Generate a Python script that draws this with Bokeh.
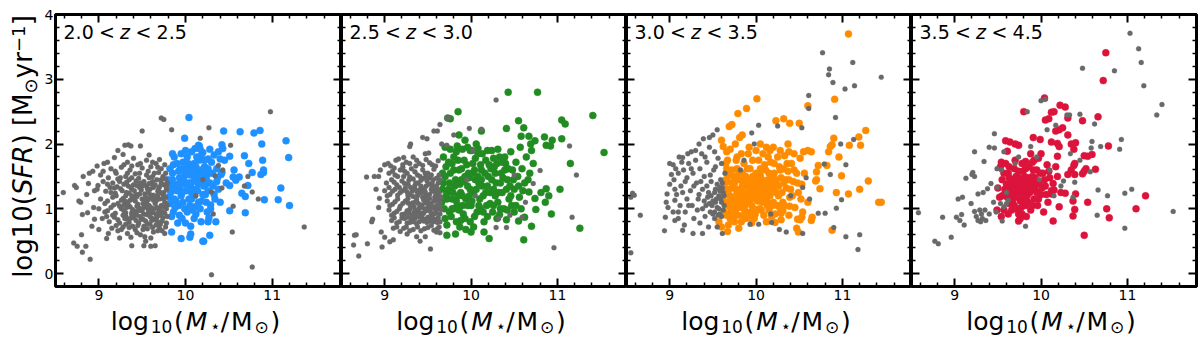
import math
from bokeh.plotting import figure
from bokeh.layouts import row, column
from bokeh.models import Range1d, LinearAxis, Label, FixedTicker, ColumnDataSource, CustomLabelingPolicy
from bokeh.core.properties import value
from bokeh.embed import file_html
from bokeh.resources import INLINE

# ---------------- data ----------------
X_MAJOR = [9, 10, 11]
X_MINOR = [8.6, 8.8, 9.2, 9.4, 9.6, 9.8, 10.2, 10.4, 10.6, 10.8, 11.2, 11.4, 11.6, 11.8]
Y_MAJOR = [0, 1, 2, 3, 4]
Y_MINOR = [-0.2, 0.2, 0.4, 0.6, 0.8, 1.2, 1.4, 1.6, 1.8, 2.2, 2.4, 2.6, 2.8, 3.2, 3.4, 3.6, 3.8]

Z_BINS = [("2.0", "2.5"), ("2.5", "3.0"), ("3.0", "3.5"), ("3.5", "4.5")]
COLORS = ["#1E90FF", "#228B22", "#FF8C00", "#DC143C"]
GRAY = "#696969"

GRAY_1 = [
    (8.59,1.25),(8.72,1.36),(8.74,1.33),(8.90,0.22),(8.81,0.33),(8.71,0.47),(8.75,0.42),(8.80,0.60),
    (8.85,0.42),(8.77,1.12),(8.79,1.10),(8.86,1.22),(8.82,1.50),(8.89,1.55),(8.93,1.58),(8.98,1.66),
    (9.06,1.70),(9.10,1.72),(9.18,1.79),(9.22,1.90),(9.30,1.98),(9.34,1.99),(9.37,1.97),(9.48,1.97),
    (9.50,2.20),(9.72,2.40),(9.75,2.38),(9.84,2.22),(9.58,1.83),(8.81,0.91),(8.87,0.94),(8.95,0.84),
    (8.92,0.73),(9.00,0.68),(9.09,0.54),(9.11,0.62),(9.24,0.55),(9.38,0.43),(9.52,0.43),(9.60,0.42),
    (9.65,0.43),(9.53,0.57),(9.54,0.50),(8.94,1.02),(8.88,1.39),(8.99,1.36),(8.95,1.28),
    (10.98,2.50),(10.27,2.25),(10.17,2.09),(10.52,1.98),(10.38,1.67),(10.43,1.60),(10.34,1.51),
    (10.42,1.32),(10.30,1.26),(10.72,1.50),(10.77,1.26),(10.84,1.15),(10.55,1.04),(10.32,0.92),
    (10.54,0.64),(11.37,0.72),(10.77,0.10),(10.30,-0.02),(10.68,1.35),(10.20,1.45),(10.12,1.20),
    (9.28,1.84),(9.40,1.78),(9.55,1.75),(9.62,1.72),(9.70,1.76),(9.66,1.70),(9.33,1.72),(9.45,1.68),
    (9.05,1.58),(9.14,1.62),(9.20,1.55),(9.26,1.64),(9.36,1.60),(9.42,1.54),(9.50,1.63),(9.57,1.58),
    (9.64,1.55),(9.72,1.62),(9.77,1.55),(9.31,1.50),(9.11,1.48),(9.02,1.52),
    (9.05,1.42),(9.16,1.40),(9.22,1.46),(9.29,1.38),(9.35,1.45),(9.40,1.37),(9.46,1.47),(9.52,1.42),
    (9.58,1.48),(9.61,1.38),(9.67,1.45),(9.72,1.40),(9.77,1.46),(9.55,1.35),(9.70,1.34),(9.44,1.36),
    (8.98,1.30),(9.08,1.27),(9.13,1.33),(9.19,1.24),(9.25,1.31),(9.32,1.25),(9.38,1.30),(9.43,1.22),
    (9.49,1.29),(9.53,1.23),(9.59,1.30),(9.63,1.21),(9.68,1.27),(9.74,1.22),(9.78,1.30),(9.47,1.33),
    (9.57,1.26),(9.02,1.15),(9.10,1.12),(9.16,1.18),(9.22,1.08),(9.28,1.16),(9.33,1.10),(9.39,1.17),
    (9.45,1.07),(9.50,1.15),(9.55,1.10),(9.60,1.17),(9.65,1.08),(9.70,1.15),(9.76,1.10),(9.42,1.12),
    (9.58,1.05),(9.72,1.05),(9.00,1.00),(9.07,0.95),(9.14,1.02),(9.19,0.93),(9.26,1.00),(9.31,0.94),
    (9.36,1.03),(9.41,0.96),(9.47,1.01),(9.52,0.92),(9.57,0.99),(9.62,0.94),(9.67,1.02),(9.73,0.96),
    (9.78,1.00),(9.44,0.90),(9.04,0.85),(9.12,0.80),(9.18,0.87),(9.24,0.78),(9.30,0.85),(9.35,0.79),
    (9.40,0.86),(9.46,0.78),(9.51,0.84),(9.56,0.77),(9.62,0.85),(9.68,0.80),(9.74,0.86),(9.78,0.78),
    (9.15,0.70),(9.22,0.66),(9.28,0.72),(9.33,0.62),(9.42,0.68),(9.48,0.60),(9.56,0.69),(9.63,0.64),
    (9.70,0.70),(9.76,0.62),(9.37,0.56),(9.60,0.55),(9.52,1.38),(9.63,1.33),(9.75,1.37),(9.66,1.18),
    (9.54,1.18),(9.71,0.90),(9.60,1.02),(9.49,0.97),(9.38,1.20),(9.29,1.06),
    (9.21,1.34),(9.27,1.28),(9.34,1.35),(9.41,1.28),(9.48,1.40),(9.56,1.31),(9.62,1.42),(9.69,1.31),
    (9.75,1.25),(9.20,1.20),(9.26,1.13),(9.31,1.20),(9.36,1.13),(9.44,1.19),(9.51,1.08),(9.57,1.14),
    (9.63,1.13),(9.68,1.21),(9.74,1.16),(9.79,1.06),(9.17,1.06),(9.24,1.04),(9.29,0.97),(9.34,1.06),
    (9.39,0.99),(9.44,1.04),(9.50,0.98),(9.55,1.04),(9.61,0.97),(9.66,0.92),(9.70,1.00),(9.76,0.93),
    (9.16,0.90),(9.22,0.83),(9.28,0.90),(9.33,0.84),(9.38,0.91),(9.43,0.82),(9.48,0.88),(9.54,0.81),
    (9.59,0.88),(9.65,0.83),(9.71,0.76),(9.77,0.72),(9.20,0.74),(9.26,0.68),(9.31,0.76),(9.39,0.73),
    (9.45,0.74),(9.52,0.73),(9.59,0.76),(9.66,0.75),(9.73,0.66),(9.25,1.48),(9.33,1.55),(9.38,1.48),
    (9.47,1.55),(9.55,1.52),(9.62,1.50),(9.69,1.56),(9.74,1.50),(9.79,1.40),(9.19,1.58),(9.29,1.68),
    (9.38,1.66),(9.48,1.70),(9.60,1.65),(9.68,1.64),(9.76,1.68),(9.10,1.38),(9.14,1.25),(9.07,1.08),
    (9.10,0.97),(9.09,0.88),(9.24,1.42),(9.18,1.32),
    (9.32,1.41),(9.37,1.33),(9.43,1.43),(9.50,1.35),(9.58,1.39),(9.65,1.37),(9.72,1.45),(9.78,1.34),
    (9.30,1.12),(9.35,1.24),(9.41,1.14),(9.47,1.23),(9.53,1.14),(9.59,1.22),(9.66,1.12),(9.71,1.25),
    (9.77,1.18),(9.32,1.02),(9.38,0.94),(9.45,0.97),(9.52,1.02),(9.58,0.95),(9.64,1.00),(9.69,0.95),
    (9.75,1.03),(9.31,0.89),(9.36,0.85),(9.42,0.93),(9.49,0.84),(9.55,0.91),(9.61,0.82),(9.67,0.87),
    (9.73,0.81),(9.79,0.88),(9.35,0.71),(9.44,0.63),(9.51,0.68),(9.62,0.71),(9.68,0.66),
]

COLOR_1 = [
    (10.04,2.41),(9.99,2.09),(10.15,1.98),(10.11,1.93),(10.17,1.92),(9.82,1.62),(10.44,2.20),(10.63,2.19),
    (10.79,2.17),(10.86,2.21),(11.16,2.05),(10.88,2.00),(10.68,1.82),(11.19,1.79),(10.89,1.75),(10.73,1.70),
    (10.90,1.60),(10.90,1.56),(10.87,1.53),(10.77,1.56),(10.56,1.60),(10.55,1.49),(10.58,1.44),(10.62,1.49),
    (10.51,1.36),(10.72,1.36),(10.65,1.24),(10.69,1.19),(10.91,1.14),(11.07,1.14),(11.10,1.32),(11.20,1.05),
    (10.69,0.94),(10.51,0.97),(10.28,0.59),(10.21,0.50),(10.26,0.80),(10.27,0.86),(10.29,1.00),(10.29,1.06),
    (10.42,1.99),(10.43,1.93),(10.51,1.81),(10.40,1.77),(10.33,1.83),(10.26,1.77),(10.20,1.87),(10.16,1.97),
    (10.41,1.53),(10.42,1.56),(10.37,1.48),(10.25,1.40),(9.84,0.64),(9.95,0.54),(10.05,0.56),(10.06,0.61),
    (10.20,0.50),(9.80,1.45),(9.85,1.55),(9.88,1.35),(9.83,1.25),(9.90,1.70),(9.93,1.48),(9.95,1.20),
    (9.92,1.05),(9.86,0.95),(9.98,1.62),(10.00,1.38),(10.02,1.80),(10.04,1.15),(10.05,1.52),(10.08,0.98),
    (10.10,1.70),(10.12,1.30),(10.13,1.58),(10.15,1.10),(10.18,1.82),(10.19,1.45),(10.22,1.65),(10.23,1.22),
    (10.25,0.95),(10.27,1.55),(10.30,1.72),(10.32,1.35),(10.34,1.15),(10.36,1.62),(10.38,1.88),(9.96,0.85),
    (10.00,1.90),(9.87,1.80),(10.07,1.25),(9.97,1.72),(10.10,0.85),(9.89,1.12),(10.16,1.75),(10.03,1.62),
    (10.21,1.35),(9.82,1.08),(10.14,1.50),(9.94,1.30),(10.09,1.42),(10.26,1.28),(10.45,1.75),(10.47,1.40),
    (10.40,1.10),(10.35,0.80),(10.18,0.80),(10.06,0.73),(9.91,0.78),(10.11,1.03),(9.99,1.00),(10.24,1.10),
    (9.83,1.38),(9.86,1.68),(9.90,1.28),(9.92,1.58),(9.95,1.40),(9.97,1.10),(9.99,1.52),(10.01,1.28),
    (10.03,1.70),(10.05,1.05),(10.06,1.35),(10.08,1.62),(10.10,1.20),(10.11,1.48),(10.13,1.80),(10.15,1.38),
    (10.17,1.00),(10.18,1.60),(10.20,1.22),(10.22,1.75),(10.24,1.48),(10.26,1.62),(10.28,1.40),(10.31,1.55),
    (10.33,1.22),(10.36,1.42),(10.38,1.30),(9.81,1.18),(9.84,0.88),(9.88,1.02),(9.93,0.90),(10.00,0.78),
    (10.02,0.95),(10.12,0.92),(10.19,1.12),(9.85,1.85),(9.95,1.85),(10.07,1.88),(10.28,1.92),
    (9.82,1.30),(9.85,1.45),(9.87,1.15),(9.91,1.38),(9.94,1.62),(9.96,1.25),(9.98,1.45),(10.01,1.60),
    (10.04,1.40),(10.07,1.15),(10.09,1.55),(10.12,1.65),(10.14,1.28),(10.16,1.45),(10.21,1.55),(10.23,1.38),
]

GRAY_2 = [
    (8.70,0.27),(8.64,0.44),(8.65,0.59),(8.67,0.60),(8.80,0.46),(8.97,0.41),(8.85,0.80),(8.86,0.84),
    (8.79,1.49),(8.88,1.50),(8.93,1.50),(8.90,1.30),(8.94,1.16),(8.93,1.02),(8.96,0.64),(9.00,0.56),
    (9.06,0.49),(9.10,0.52),(9.00,1.68),(9.04,1.70),(9.07,1.66),(8.95,1.60),(9.13,1.75),(9.11,1.63),
    (9.16,1.77),(9.22,1.79),(9.21,1.64),(9.30,2.00),(9.29,1.96),(9.44,2.10),(9.49,2.08),(9.47,1.85),
    (9.51,1.86),(9.57,2.20),(9.61,2.20),(9.64,2.30),(9.72,2.40),(9.74,2.40),(9.66,2.00),(9.72,1.98),
    (9.98,2.24),(9.80,2.14),(9.41,0.50),(9.47,0.57),(9.53,0.38),(9.60,0.64),(9.64,0.63),(9.26,0.61),
    (9.37,0.57),(10.29,2.68),(11.14,1.97),(11.22,1.52),(11.17,0.87),(10.96,0.40),(10.29,0.71),(10.41,0.71),
    (10.32,0.85),(10.59,0.87),(10.80,1.59),(10.72,1.39),(10.63,1.10),(10.12,2.23),(10.50,1.52),(10.45,0.90),
    (10.02,1.90),(10.05,1.20),(9.95,1.45),
    (9.25,1.72),(9.33,1.80),(9.40,1.70),(9.48,1.76),(9.55,1.68),(9.62,1.74),(9.36,1.66),(9.05,1.55),
    (9.12,1.52),(9.18,1.60),(9.26,1.55),(9.31,1.62),(9.38,1.52),(9.44,1.60),(9.50,1.55),(9.57,1.61),
    (9.63,1.52),(9.22,1.50),(9.02,1.40),(9.08,1.45),(9.14,1.37),(9.20,1.43),(9.27,1.38),(9.33,1.46),
    (9.39,1.40),(9.45,1.47),(9.51,1.38),(9.56,1.45),(9.62,1.40),(9.48,1.35),(9.00,1.28),(9.06,1.22),
    (9.12,1.30),(9.18,1.25),(9.24,1.32),(9.29,1.22),(9.35,1.30),(9.41,1.24),(9.46,1.31),(9.52,1.22),
    (9.58,1.29),(9.63,1.24),(9.38,1.20),(9.03,1.12),(9.09,1.07),(9.15,1.15),(9.21,1.08),(9.27,1.16),
    (9.32,1.09),(9.37,1.14),(9.43,1.06),(9.49,1.13),(9.54,1.08),(9.60,1.16),(9.64,1.10),(9.46,1.19),
    (9.05,0.98),(9.11,0.93),(9.17,1.00),(9.23,0.92),(9.29,0.99),(9.34,0.94),(9.40,1.01),(9.45,0.93),
    (9.51,0.99),(9.57,0.92),(9.62,1.00),(9.36,0.90),(9.08,0.82),(9.14,0.78),(9.20,0.86),(9.26,0.78),
    (9.31,0.84),(9.37,0.77),(9.43,0.85),(9.49,0.79),(9.55,0.86),(9.61,0.79),(9.10,0.70),(9.18,0.65),
    (9.25,0.72),(9.33,0.68),(9.42,0.66),(9.50,0.71),(9.57,0.67),(9.63,0.72),(9.55,1.35),(9.60,1.05),
    (9.50,1.02),(9.42,1.30),(9.58,1.18),(9.52,1.48),(9.44,1.18),
    (9.21,1.68),(9.29,1.70),(9.37,1.75),(9.44,1.67),(9.52,1.71),(9.59,1.66),(9.09,1.58),(9.15,1.50),
    (9.23,1.58),(9.29,1.49),(9.35,1.57),(9.41,1.50),(9.47,1.55),(9.54,1.52),(9.60,1.47),(9.05,1.33),
    (9.11,1.41),(9.17,1.33),(9.23,1.39),(9.30,1.33),(9.36,1.40),(9.42,1.35),(9.49,1.43),(9.54,1.30),
    (9.60,1.35),(9.64,1.45),(9.03,1.20),(9.09,1.27),(9.15,1.21),(9.21,1.28),(9.27,1.21),(9.32,1.27),
    (9.38,1.25),(9.44,1.26),(9.49,1.20),(9.55,1.27),(9.61,1.20),(9.06,1.05),(9.12,1.11),(9.18,1.04),
    (9.24,1.12),(9.30,1.04),(9.35,1.10),(9.41,1.02),(9.47,1.09),(9.52,1.05),(9.57,1.12),(9.63,1.04),
    (9.08,0.90),(9.14,0.96),(9.20,0.91),(9.26,0.97),(9.32,0.90),(9.38,0.96),(9.43,0.90),(9.48,0.97),
    (9.54,0.91),(9.59,0.98),(9.64,0.92),(9.11,0.86),(9.17,0.80),(9.23,0.85),(9.29,0.79),(9.35,0.85),
    (9.40,0.80),(9.46,0.84),(9.52,0.81),(9.58,0.84),(9.64,0.80),(9.14,0.72),(9.22,0.70),(9.29,0.66),
    (9.38,0.72),(9.46,0.69),(9.54,0.74),(9.61,0.69),
    (9.28,1.44),(9.35,1.36),(9.42,1.44),(9.48,1.50),(9.55,1.40),(9.61,1.30),(9.26,1.26),(9.33,1.19),
    (9.40,1.29),(9.47,1.26),(9.52,1.16),(9.59,1.24),(9.65,1.18),(9.27,1.09),(9.34,1.03),(9.39,1.08),
    (9.45,1.14),(9.50,1.09),(9.56,1.02),(9.62,1.12),(9.28,0.94),(9.35,0.98),(9.41,0.94),(9.46,1.00),
    (9.53,0.96),(9.60,0.93),(9.65,0.99),(9.27,0.87),(9.33,0.80),(9.39,0.88),(9.45,0.81),(9.50,0.87),
    (9.56,0.80),(9.62,0.86),
]

COLOR_2 = [
    (10.43,2.80),(10.77,2.80),(11.41,2.44),(11.05,2.37),(11.09,2.31),(10.55,2.36),(10.41,2.24),(10.61,2.25),
    (11.54,1.87),(11.15,1.70),(11.05,2.08),(10.94,2.06),(10.85,2.11),(10.87,1.98),(10.92,1.97),(10.67,2.12),
    (10.58,2.12),(10.74,2.05),(10.70,1.90),(10.69,2.00),(11.03,1.30),(10.93,0.92),(11.26,0.70),(10.70,0.73),
    (10.61,0.52),(10.90,1.20),(10.86,1.10),(10.81,1.25),(10.87,1.31),(10.75,0.99),(10.74,1.16),(10.67,1.26),
    (10.62,0.87),(10.55,0.81),(10.58,1.00),(10.50,0.95),(10.41,0.83),(10.33,0.91),(10.21,0.54),(10.15,0.64),
    (9.85,2.50),(9.73,2.40),(9.76,2.39),(9.86,2.14),(9.93,2.06),(9.84,1.97),(9.99,1.90),(10.06,2.00),
    (10.08,1.93),(10.12,2.20),(9.72,0.59),(9.82,0.61),(10.00,0.64),(9.94,0.68),
    (9.66,1.10),(9.68,1.40),(9.70,0.85),(9.71,1.65),(9.73,1.25),(9.75,0.95),(9.76,1.55),(9.78,1.15),
    (9.80,1.80),(9.81,1.35),(9.83,0.80),(9.84,1.05),(9.86,1.60),(9.88,1.25),(9.89,1.45),(9.91,0.92),
    (9.92,1.75),(9.94,1.15),(9.96,1.35),(9.97,1.55),(9.99,0.80),(10.00,1.05),(10.02,1.70),(10.03,1.25),
    (10.05,1.45),(10.07,0.95),(10.08,1.85),(10.10,1.15),(10.12,1.60),(10.13,1.35),(10.15,0.80),(10.17,1.75),
    (10.18,1.05),(10.20,1.50),(10.22,1.25),(10.24,1.90),(10.25,0.95),(10.27,1.65),(10.29,1.40),(10.31,1.10),
    (10.33,1.80),(10.35,1.55),(10.36,1.25),(10.38,1.00),(10.40,1.70),(10.42,1.45),(10.44,1.15),(10.46,1.88),
    (10.48,1.60),(10.50,1.30),(10.52,1.72),(10.54,1.50),(10.56,1.18),(10.59,1.62),(10.62,1.40),(10.64,1.80),
    (9.70,1.95),(9.78,1.70),(9.74,1.30),(9.80,1.00),(9.85,1.20),(9.90,1.05),(9.93,1.50),(9.98,1.20),
    (10.04,1.60),(10.09,1.40),(10.14,1.20),(10.19,1.90),(10.23,1.62),(10.28,1.20),(10.34,1.40),(10.39,1.60),
    (10.45,1.35),(9.67,1.55),(9.72,0.75),(9.87,0.72),(10.01,1.90),(10.11,1.00),(10.26,1.78),(10.30,0.85),
    (10.47,1.05),(10.57,1.95),(10.68,1.55),(10.72,1.70),(10.66,1.45),
    (9.67,1.30),(9.69,1.00),(9.70,1.50),(9.72,1.15),(9.74,1.72),(9.75,1.40),(9.77,0.88),(9.79,1.25),
    (9.80,1.60),(9.82,1.45),(9.83,1.12),(9.85,1.75),(9.86,0.98),(9.87,1.38),(9.89,1.62),(9.90,1.20),
    (9.92,1.42),(9.93,0.85),(9.95,1.68),(9.96,1.05),(9.98,1.48),(9.99,1.30),(10.01,1.12),(10.02,1.55),
    (10.04,0.88),(10.05,1.78),(10.06,1.30),(10.08,1.50),(10.09,1.05),(10.11,1.68),(10.12,1.45),(10.14,0.95),
    (10.16,1.55),(10.17,1.25),(10.19,1.35),(10.21,1.68),(10.22,1.08),(10.24,1.45),(10.26,1.30),(10.28,1.55),
    (10.30,1.70),(10.32,1.25),(10.34,1.00),(10.37,1.48),(10.39,1.80),(10.41,1.30),(10.43,1.62),(10.46,1.20),
    (10.49,1.45),(10.52,1.05),(10.55,1.35),(10.60,1.28),(9.68,1.80),(9.76,1.92),(9.83,1.88),(9.90,1.92),
    (9.96,1.95),(10.13,1.85),(10.31,1.92),(10.36,1.72),(9.71,1.20),(9.78,1.00),(9.88,0.82),(10.03,0.72),
    (10.19,0.88),(10.26,1.05),(10.42,0.98),
]

GRAY_3 = [
    (8.57,1.24),(8.59,1.21),(8.55,1.18),(8.66,0.90),(8.55,0.32),(8.94,0.66),(8.95,0.87),(8.96,1.10),
    (8.97,1.23),(8.98,1.02),(9.06,1.13),(9.00,1.70),(9.04,1.68),(9.02,1.53),(9.11,1.80),(9.15,1.79),
    (9.21,1.85),(9.25,1.88),(9.30,1.90),(9.34,2.00),(9.39,2.08),(9.46,2.10),(9.50,2.14),(9.55,2.22),
    (9.06,0.82),(9.10,0.85),(9.17,0.75),(9.15,0.67),(9.27,0.62),(9.38,0.62),(9.61,0.62),(9.93,0.76),
    (10.03,0.76),(10.03,2.29),(9.95,2.17),(9.98,2.00),(9.86,1.75),(9.82,1.60),
    (10.77,3.41),(11.12,3.26),(10.85,3.16),(10.84,3.07),(10.89,2.95),(11.03,2.85),(11.14,2.90),(11.45,3.03),
    (10.61,2.75),(10.61,2.55),(10.92,2.41),(10.25,2.28),(10.53,2.25),(11.13,2.07),(10.98,2.00),(11.04,1.68),
    (10.86,1.53),(10.54,1.33),(10.58,1.48),(10.79,1.69),(10.99,1.14),(10.93,1.01),(10.72,0.93),(10.80,0.93),
    (10.90,0.71),(11.04,0.57),(11.20,0.60),(11.18,0.37),(10.35,0.64),(10.27,0.68),(10.54,0.62),(10.18,0.79),
    (10.17,0.92),(10.40,1.20),(10.62,1.15),
    (9.05,1.45),(9.10,1.55),(9.13,1.35),(9.16,1.60),(9.20,1.48),(9.22,1.70),(9.24,1.28),(9.27,1.55),
    (9.30,1.75),(9.31,1.40),(9.33,1.15),(9.35,1.62),(9.37,1.85),(9.38,1.30),(9.40,1.50),(9.42,1.05),
    (9.43,1.72),(9.45,1.25),(9.46,1.95),(9.47,0.95),(9.48,1.42),(9.50,1.12),(9.51,1.60),(9.52,0.85),
    (9.53,1.30),(9.55,1.02),(9.56,1.78),(9.57,1.20),(9.58,0.92),(9.59,1.45),(9.60,1.10),(9.61,1.32),
    (9.62,0.98),(9.63,1.20),(9.64,1.55),(9.54,1.15),(9.49,1.05),(9.58,1.28),(9.44,1.18),(9.52,0.95),
    (9.12,1.05),(9.18,0.95),(9.08,1.22),(9.26,1.05),(9.28,0.85),(9.35,0.78),(9.41,0.88),(9.20,1.15),
    (9.04,0.95),(9.00,1.38),(9.15,1.25),(9.32,0.98),(9.45,0.72),(9.55,0.72),
    (9.46,1.08),(9.50,0.92),(9.52,1.25),(9.55,1.38),(9.57,1.00),(9.59,1.15),(9.60,0.88),(9.61,1.40),
    (9.62,1.25),(9.63,1.05),(9.56,0.90),(9.53,1.10),(9.58,1.33),(9.48,1.20),(9.43,1.35),(9.40,1.12),
    (9.36,1.42),(9.34,1.22),(9.28,1.35),(9.25,1.62),(9.18,1.42),(9.14,1.72),(9.07,1.62),(9.22,1.05),
    (9.38,1.00),(9.47,1.52),(9.53,1.65),(9.60,1.70),(9.41,1.80),(9.52,1.88),(9.10,0.95),(9.06,1.30),
]

COLOR_3 = [
    (10.01,2.70),(9.89,2.55),(9.79,2.47),(9.69,2.27),(9.72,2.30),(9.84,2.14),(9.81,2.10),(9.60,2.06),
    (9.62,1.96),(9.66,1.88),(9.67,1.75),(9.78,1.80),(9.91,1.85),(10.00,1.90),(10.05,2.00),(9.60,0.72),
    (9.67,0.65),(9.57,0.80),
    (11.07,3.70),(10.91,2.69),(10.60,2.59),(10.23,2.36),(10.32,2.39),(10.39,2.32),(10.50,2.32),(11.27,2.21),
    (11.19,2.11),(11.21,1.98),(11.08,1.98),(10.90,2.09),(10.88,1.99),(10.86,1.96),(10.96,1.80),(10.99,1.51),
    (11.30,1.43),(11.20,1.30),(11.07,1.23),(10.93,1.25),(10.74,1.31),(10.60,1.10),(11.42,1.10),(11.45,1.10),
    (10.88,0.67),(10.49,0.64),(10.47,0.70),(10.65,0.87),(10.64,0.82),(10.54,0.95),(10.53,0.87),(10.48,0.84),
    (10.51,0.83),(10.29,0.93),(10.31,0.97),(10.39,1.04),(10.38,0.90),(10.29,0.83),(10.22,0.79),(10.60,1.90),
    (10.64,1.88),(10.55,1.88),(10.84,1.88),(10.82,1.67),(10.72,1.67),(10.70,1.57),(10.70,1.45),(10.69,1.43),
    (10.37,2.00),(10.38,1.88),(10.12,1.95),(10.14,1.80),
    (9.62,1.20),(9.63,0.95),(9.65,1.45),(9.67,1.05),(9.69,1.30),(9.70,0.85),(9.72,1.60),(9.73,1.15),
    (9.75,1.40),(9.76,0.95),(9.78,1.25),(9.80,1.55),(9.81,1.05),(9.83,0.80),(9.84,1.35),(9.86,1.70),
    (9.87,1.15),(9.89,0.95),(9.90,1.45),(9.92,1.25),(9.93,1.62),(9.95,1.05),(9.97,1.38),(9.98,0.85),
    (10.00,1.55),(10.01,1.20),(10.03,1.75),(10.04,1.00),(10.06,1.40),(10.08,1.28),(10.09,0.90),(10.11,1.60),
    (10.12,1.12),(10.14,1.45),(10.16,1.30),(10.17,1.72),(10.19,1.05),(10.21,1.55),(10.22,0.92),(10.24,1.38),
    (10.26,1.20),(10.27,1.65),(10.29,1.48),(10.31,1.10),(10.33,1.82),(10.35,1.32),(10.37,1.58),(10.39,1.18),
    (10.41,1.70),(10.43,1.42),(10.45,1.02),(10.47,1.55),(10.49,1.25),(10.51,1.78),(10.53,1.38),(9.66,1.62),
    (9.71,1.00),(9.77,1.75),(9.82,1.20),(9.88,1.50),(9.94,0.95),(9.99,1.30),(10.02,1.45),(10.07,1.10),
    (10.13,1.35),(10.18,1.50),(10.23,1.25),(10.28,1.00),(10.34,1.45),(10.40,1.30),(9.74,1.50),(9.85,0.90),
    (9.96,1.75),(10.05,1.62),(10.15,0.98),(10.25,1.80),(10.32,1.62),(10.44,1.85),(10.20,1.95),(9.79,1.10),
    (9.91,1.10),(10.10,1.22),(9.68,0.75),(9.80,0.70),
    (9.63,1.35),(9.64,1.10),(9.66,0.90),(9.68,1.52),(9.70,1.20),(9.72,1.40),(9.74,1.05),(9.75,0.80),
    (9.77,1.30),(9.78,1.62),(9.79,0.90),(9.81,1.45),(9.82,1.12),(9.84,1.55),(9.85,1.25),(9.86,1.00),
    (9.88,1.35),(9.90,1.62),(9.91,0.88),(9.93,1.40),(9.94,1.15),(9.96,1.50),(9.97,1.22),(9.99,0.92),
    (10.00,1.42),(10.02,1.12),(10.03,1.30),(10.05,1.52),(10.06,0.98),(10.08,1.38),(10.10,1.68),(10.11,1.25),
    (10.13,1.05),(10.15,1.55),(10.16,1.20),(10.18,1.40),(10.20,1.10),(10.21,1.70),(10.23,1.45),(10.25,1.05),
    (10.26,1.35),(10.28,1.60),(10.30,1.25),(10.32,1.40),(10.33,1.05),(10.36,1.70),(10.38,1.45),(10.42,1.20),
    (10.44,1.60),(10.48,1.40),(10.52,1.15),(10.56,1.55),(9.65,1.70),(9.70,1.92),(9.76,2.00),(9.83,1.85),
    (9.92,1.95),(10.08,1.85),(10.16,1.90),(10.28,1.90),(9.95,0.78),(10.12,0.80),(10.18,0.88),(9.72,0.92),
    (9.64,1.25),(9.67,1.42),(9.69,1.12),(9.71,0.95),(9.73,1.33),(9.76,1.18),(9.78,1.45),(9.80,1.02),
    (9.83,1.30),(9.85,1.42),(9.87,1.05),(9.89,1.22),(9.92,1.33),(9.95,1.45),(9.97,1.00),(10.00,1.15),
    (10.02,1.35),(10.04,1.22),(10.07,1.45),(10.09,1.15),(10.12,1.40),(10.14,1.25),(10.17,1.08),(10.19,1.30),
    (9.66,1.55),(9.74,0.88),(9.88,0.85),(10.00,0.98),
]

GRAY_4 = [
    (8.58,0.94),(8.77,0.50),(8.81,0.46),(8.96,0.56),(8.86,0.87),(9.02,0.87),(9.08,0.91),(9.06,0.82),
    (9.11,0.75),(9.09,1.18),(9.04,1.15),(9.13,1.47),(9.20,1.53),(9.23,1.50),(9.21,1.56),(9.23,1.88),
    (9.34,1.73),(9.40,1.95),(9.46,1.94),(9.46,2.16),(9.19,1.08),(9.27,1.23),(9.33,1.25),(9.38,1.31),
    (9.42,1.39),(9.49,1.33),(9.29,0.98),(9.23,0.96),(9.25,0.88),(9.27,0.82),(9.31,0.92),(9.35,0.98),
    (9.32,0.85),(9.40,0.92),(9.36,0.82),(9.30,0.80),(9.53,1.08),(9.57,1.03),(9.60,1.08),(9.62,1.13),
    (9.55,0.81),(9.82,0.73),(9.49,1.62),(9.54,1.60),(9.57,1.88),(10.05,2.69),(10.00,2.67),(9.84,2.50),
    (9.88,1.96),(10.07,2.22),(9.74,1.80),(9.70,1.70),(9.95,1.80),(9.60,1.25),(9.45,1.10),(9.48,0.95),
    (11.03,3.71),(11.13,3.47),(11.16,3.26),(10.48,3.17),(10.85,3.13),(11.19,2.90),(11.40,2.61),(11.34,2.45),
    (10.45,2.46),(10.33,2.45),(10.30,2.45),(10.62,2.31),(10.17,2.29),(10.93,2.07),(10.59,2.04),(10.69,1.96),
    (10.91,1.92),(10.58,1.94),(10.45,1.75),(10.34,1.85),(10.57,1.57),(10.39,1.41),(10.26,1.43),(10.23,1.35),
    (10.66,1.29),(10.77,1.20),(10.97,1.24),(11.05,1.30),(10.37,1.18),(10.65,0.90),(10.97,0.70),(11.53,0.96),
    (10.10,1.60),(10.15,1.20),(9.98,1.45),
]

COLOR_4 = [
    (10.04,2.71),(9.80,2.50),(9.59,2.05),(9.64,2.03),(9.70,2.00),(9.74,1.98),(9.91,2.10),(9.99,2.07),
    (9.61,1.89),(9.54,1.72),(9.53,1.65),(9.70,1.75),(9.82,1.73),(9.90,1.72),(9.97,1.78),(9.52,1.18),
    (9.49,0.98),(9.57,0.98),(9.54,0.88),(9.74,0.81),(10.05,2.37),(10.09,2.39),(10.15,2.50),
    (10.75,3.41),(10.72,2.98),(10.22,2.60),(10.28,2.57),(10.12,2.49),(10.31,2.40),(10.66,2.42),(10.48,2.36),
    (10.25,2.25),(10.21,2.22),(10.17,2.20),(10.31,2.14),(10.78,1.97),(10.12,2.03),(10.19,2.01),(10.35,2.00),
    (10.40,2.02),(10.38,1.92),(10.54,1.81),(10.59,1.84),(10.50,1.82),(10.63,1.61),(10.52,1.62),(10.48,1.54),
    (10.50,1.58),(10.38,1.67),(10.39,1.70),(10.35,1.60),(10.31,1.53),(10.39,1.53),(11.21,1.20),(11.10,1.00),
    (10.79,0.86),(10.76,1.00),(10.54,1.10),(10.37,1.12),(10.39,0.99),(10.37,0.89),(10.21,1.03),(10.14,0.81),
    (10.50,0.59),(10.23,1.25),(10.28,1.24),(10.40,1.23),(10.12,1.23),(10.15,1.29),(10.14,1.39),(10.19,1.50),
    (10.17,1.65),(10.19,1.81),(10.21,1.96),
    (9.50,1.32),(9.55,1.45),(9.58,1.22),(9.60,1.38),(9.62,1.55),(9.63,1.08),(9.65,1.30),(9.66,1.45),
    (9.68,1.18),(9.69,1.62),(9.70,1.35),(9.72,1.00),(9.73,1.25),(9.74,1.48),(9.76,1.12),(9.77,1.38),
    (9.78,0.92),(9.79,1.58),(9.80,1.28),(9.82,1.05),(9.83,1.42),(9.84,1.20),(9.86,1.65),(9.87,1.35),
    (9.88,0.98),(9.90,1.50),(9.92,1.15),(9.93,1.30),(9.95,1.60),(9.96,1.05),(9.98,1.40),(10.00,1.22),
    (10.02,1.55),(10.03,0.95),(10.05,1.35),(10.07,1.68),(10.08,1.10),(10.10,1.48),(10.12,1.28),(9.64,1.40),
    (9.71,1.50),(9.75,1.30),(9.81,1.50),(9.68,1.25),(9.78,1.20),(9.85,1.30),(9.62,0.92),(9.76,0.85),
    (9.88,1.85),(10.00,1.85),(9.59,1.70),(9.67,1.10),(9.73,1.40),(9.95,1.25),
    (9.58,1.30),(9.61,1.18),(9.63,1.48),(9.65,1.22),(9.67,1.38),(9.69,1.05),(9.70,1.28),(9.71,1.42),
    (9.72,1.18),(9.74,1.58),(9.75,1.20),(9.76,1.45),(9.77,1.02),(9.79,1.32),(9.80,1.40),(9.81,1.15),
    (9.82,1.62),(9.84,1.32),(9.85,1.10),(9.86,1.48),(9.87,1.25),(9.89,1.40),(9.90,1.05),(9.91,1.60),
    (9.93,1.48),(9.94,1.38),(9.97,1.15),(9.99,1.55),(10.01,1.32),(10.04,1.45),(10.06,1.22),(10.09,1.58),
    (9.66,0.98),(9.74,0.92),(9.83,0.88),(9.55,1.20),(9.57,1.55),(9.63,1.65),(9.78,1.70),(9.92,1.75),
]

GRAYS = [GRAY_1, GRAY_2, GRAY_3, GRAY_4]
SELECTED = [COLOR_1, COLOR_2, COLOR_3, COLOR_4]

# ---------------- layout / style ----------------
FONT = "DejaVu Sans"
X0, X1 = 8.5, 11.8
Y0, Y1 = -0.2, 4.0
FRAME_H = 272
FRAME_W = [286, 285, 285, 285]
BORDER_L = [11, 0, 0, 0]
BORDER_R = [0, 0, 0, 7]
TOP = 14
BOTTOM = 20
TOTAL_H = 340
YLAB_W = 41
STRIP_H = TOTAL_H - TOP - FRAME_H - BOTTOM
BASE_FIX = 0.36   # observed shift of the "alphabetic" anchor, in em


def x_at(px, fw):
    return X0 + px * (X1 - X0) / fw


def y_at(py):
    return Y1 - py * (Y1 - Y0) / FRAME_H


HIDE_ALL = CustomLabelingPolicy(code="""
    for (const i of indices)
        indices.unset(i)
    return indices
""")


def style_axis(ax, major, minor, show):
    ax.ticker = FixedTicker(ticks=major, minor_ticks=minor)
    ax.axis_line_color = None
    ax.major_tick_in = 8
    ax.major_tick_out = 0
    ax.minor_tick_in = 4
    ax.minor_tick_out = 0
    ax.major_tick_line_color = "black"
    ax.major_tick_line_width = 2
    ax.minor_tick_line_color = "black"
    ax.minor_tick_line_width = 1.5
    if show:
        ax.major_label_text_font = FONT
        ax.major_label_text_font_size = "14px"
        ax.major_label_text_color = "black"
    else:
        ax.major_label_policy = HIDE_ALL
        ax.major_label_text_font_size = "0px"
        ax.major_label_standoff = 0


def add_label(p, x, y, text, size, style="normal", align="left"):
    p.add_layout(Label(x=x, y=y, text=text, text_font=FONT, text_font_size=f"{size}px",
                       text_font_style=style, text_color="black", text_align=align,
                       text_baseline="alphabetic"))


def put_text(fig, x, y, txt, size, style="normal", angle=0.0):
    fig.text(x=[x], y=[y], text=[txt], text_font=value(FONT), text_font_size=value(f"{size}px"),
             text_font_style=value(style), text_color="black", text_align=value("left"),
             text_baseline=value("alphabetic"), angle=angle)


def blank_fig(w, h, xr, yr):
    f = figure(width=w, height=h, x_range=Range1d(*xr), y_range=Range1d(*yr),
               x_axis_type=None, y_axis_type=None, output_backend="svg", toolbar_location=None,
               min_border_left=0, min_border_right=0, min_border_top=0, min_border_bottom=0)
    f.outline_line_color = None
    f.background_fill_color = "white"
    f.border_fill_color = "white"
    return f


figs = []
frame_left = YLAB_W + BORDER_L[0]
frame_lefts = []
TS = 19
for i in range(4):
    fw = FRAME_W[i]
    frame_lefts.append(frame_left)
    frame_left += fw
    p = figure(frame_width=fw, frame_height=FRAME_H,
               x_range=Range1d(X0, X1), y_range=Range1d(Y0, Y1),
               output_backend="svg", toolbar_location=None,
               min_border_left=BORDER_L[i], min_border_right=BORDER_R[i],
               min_border_top=TOP, min_border_bottom=BOTTOM)
    p.grid.visible = False
    p.outline_line_color = "black"
    p.outline_line_width = 3
    p.background_fill_color = "white"
    p.border_fill_color = "white"
    p.add_layout(LinearAxis(), "above")
    p.add_layout(LinearAxis(), "right")

    style_axis(p.below[0], X_MAJOR, X_MINOR, True)
    p.below[0].major_label_standoff = 3
    style_axis(p.above[0], X_MAJOR, X_MINOR, False)
    style_axis(p.left[0], Y_MAJOR, Y_MINOR, i == 0)
    if i == 0:
        p.left[0].major_label_standoff = 2
    style_axis(p.right[0], Y_MAJOR, Y_MINOR, False)

    sel = SELECTED[i]
    gr = GRAYS[i]
    src_c = ColumnDataSource(dict(x=[a for a, b in sel], y=[b for a, b in sel]))
    src_g = ColumnDataSource(dict(x=[a for a, b in gr], y=[b for a, b in gr]))
    p.scatter("x", "y", source=src_c, size=7, fill_color=COLORS[i], line_color=COLORS[i], line_width=0.5)
    p.scatter("x", "y", source=src_g, size=5, fill_color=GRAY, line_color=GRAY, line_width=0.3)

    # panel title: "a < z < b"  (baseline 24 px below the frame top)
    lo, hi = Z_BINS[i]
    yb = y_at(24 - BASE_FIX * TS)
    add_label(p, x_at(8, fw), yb, lo, TS)
    add_label(p, x_at(51.4, fw), yb, "<", TS, align="center")
    add_label(p, x_at(69.6, fw), yb, "z", TS, style="italic", align="center")
    add_label(p, x_at(87.9, fw), yb, "<", TS, align="center")
    add_label(p, x_at(101.1, fw), yb, hi, TS)
    figs.append(p)

# ---- y axis label strip (left) : log10(SFR) [M_sun yr^-1] ----
F = 26
S = 18
ylab = blank_fig(YLAB_W, TOTAL_H, (0, YLAB_W), (0, TOTAL_H))
ypieces = [("log10(", F, "normal", 0, 82.9), ("SFR", F, "italic", 0, 50.5),
           (") [M", F, "normal", 0, 51.0), ("\u2299", S, "normal", 4, 15.3),
           ("yr", F, "normal", 0, 26.1), ("\u22121", S, "normal", -8, 26.8),
           ("]", F, "normal", 0, 10.1)]
ytotal = sum(w for *_, w in ypieces)
cur = 146 + ytotal / 2      # page y of the text start (its bottom end)
for txt, sz, st, dx, w in ypieces:
    bx = 32 + dx - BASE_FIX * sz
    put_text(ylab, bx, TOTAL_H - cur, txt, sz, style=st, angle=math.pi / 2)
    cur -= w

# ---- x axis label strip (bottom) : log10(M*/M_sun) under each panel ----
XF = 25
XS = 17
GAP = 1.8
strip_w = sum(FRAME_W) + BORDER_L[0] + BORDER_R[3]
strip = blank_fig(strip_w, STRIP_H, (YLAB_W, YLAB_W + strip_w), (0, STRIP_H))
xpieces = [("log", XF, "normal", 0, 38.1), ("10", XS, "normal", 3, 21.6), ("(", XF, "normal", 0, 9.75),
           ("M", XF, "italic", 0, 22.6), ("\u22c6", XS, "normal", 2, 9.0), ("/", XF, "normal", 0, 8.4),
           ("M", XF, "normal", 0, 21.6), ("\u2299", XS, "normal", 3, 14.2), (")", XF, "normal", 0, 9.75)]
xtotal = sum(w for *_, w in xpieces) + GAP * (len(xpieces) - 1)
base_img = 329.5
for i in range(4):
    cur = frame_lefts[i] + FRAME_W[i] / 2 - xtotal / 2
    for txt, sz, st, dy, w in xpieces:
        anchor_img = base_img + dy - BASE_FIX * sz
        put_text(strip, cur, TOTAL_H - anchor_img, txt, sz, style=st)
        cur += w + GAP

layout = row(ylab, column(row(*figs, spacing=0), strip, spacing=0), spacing=0)
open("out.html", "w").write(file_html(layout, INLINE))
